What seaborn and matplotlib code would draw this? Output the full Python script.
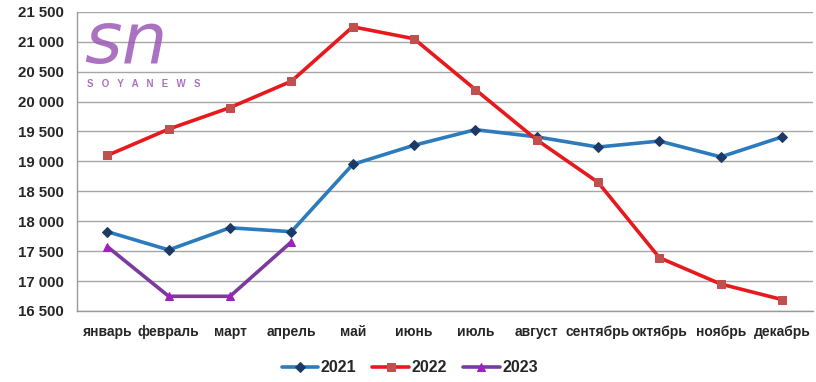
import pandas as pd
import matplotlib
matplotlib.use('Agg')
import matplotlib.pyplot as plt
import seaborn as sns

# DATA
months = ['январь', 'февраль', 'март', 'апрель', 'май', 'июнь',
          'июль', 'август', 'сентябрь', 'октябрь', 'ноябрь', 'декабрь']
y2021 = [17825, 17520, 17890, 17825, 18950, 19270,
         19530, 19410, 19240, 19340, 19075, 19410]
y2022 = [19100, 19540, 19900, 20340, 21250, 21050,
         20200, 19360, 18650, 17390, 16950, 16690]
y2023 = [17575, 16745, 16745, 17655]
yticks = [16500, 17000, 17500, 18000, 18500, 19000, 19500, 20000, 20500, 21000, 21500]

sns.set_style('white')
plt.rcParams['font.family'] = ['Liberation Sans', 'DejaVu Sans']

fig = plt.figure(figsize=(8.16, 3.82), dpi=100)
ax = fig.add_axes([0.094, 0.186, 0.902, 0.783])

# ONE FRAME PER YEAR
df21 = pd.DataFrame({'month': months, 'value': y2021})
df22 = pd.DataFrame({'month': months, 'value': y2022})
df23 = pd.DataFrame({'month': months[:len(y2023)], 'value': y2023})

sns.lineplot(data=df21, x='month', y='value', ax=ax, color='#2b7bbd', lw=2.6,
             marker='D', markersize=6, markerfacecolor='#1d3a66',
             markeredgecolor='#1d3a66', label='2021', sort=False)
sns.lineplot(data=df22, x='month', y='value', ax=ax, color='#e8191d', lw=2.6,
             marker='s', markersize=7, markerfacecolor='#c0504d',
             markeredgecolor='#c0504d', label='2022', sort=False)
sns.lineplot(data=df23, x='month', y='value', ax=ax, color='#7a3a9e', lw=2.6,
             marker='^', markersize=8, markerfacecolor='#a11fbf',
             markeredgecolor='#a11fbf', label='2023', sort=False)

# AXES
ax.set_xlim(-0.5, 11.5)
ax.set_ylim(16500, 21500)
ax.set_yticks(yticks)
ax.set_yticklabels([f'{v:,}'.replace(',', ' ') for v in yticks],
                   fontsize=10.8, fontweight='bold', color='#262626')
ax.set_xticks(range(12))
ax.set_xticklabels(months, fontsize=10, fontweight='bold', color='#262626')
ax.set_xticks([i - 0.5 for i in range(13)], minor=True)
ax.tick_params(axis='x', which='major', length=0, pad=10)
ax.tick_params(axis='x', which='minor', length=5, color='#999999', width=1)
ax.tick_params(axis='y', length=0, pad=9)
ax.set_xlabel('')
ax.set_ylabel('')
ax.grid(True, axis='y', color='#a6a6a6', lw=1)
for s in ['top', 'right']:
    ax.spines[s].set_visible(False)
for s in ['left', 'bottom']:
    ax.spines[s].set_color('#999999')
    ax.spines[s].set_linewidth(1)

# WATERMARK
fig.text(0.103, 0.835, 'sn', fontsize=52, style='italic', color='#9b59b6',
         alpha=0.85, family='DejaVu Sans')
fig.text(0.107, 0.772, 'S   O   Y   A   N   E   W   S', fontsize=7, fontweight='bold',
         color='#9b59b6', alpha=0.85)

# LEGEND AT BOTTOM
h, labs = ax.get_legend_handles_labels()
for line in h:
    line.set_markersize(5.5)
ax.legend(h, labs, loc='center', bbox_to_anchor=(0.502, 0.037),
          bbox_transform=fig.transFigure, ncol=3, frameon=False,
          prop={'size': 11.5, 'weight': 'bold'}, handlelength=2.3,
          handletextpad=0.15, columnspacing=1.0)

fig.savefig('out.png', dpi=100)
